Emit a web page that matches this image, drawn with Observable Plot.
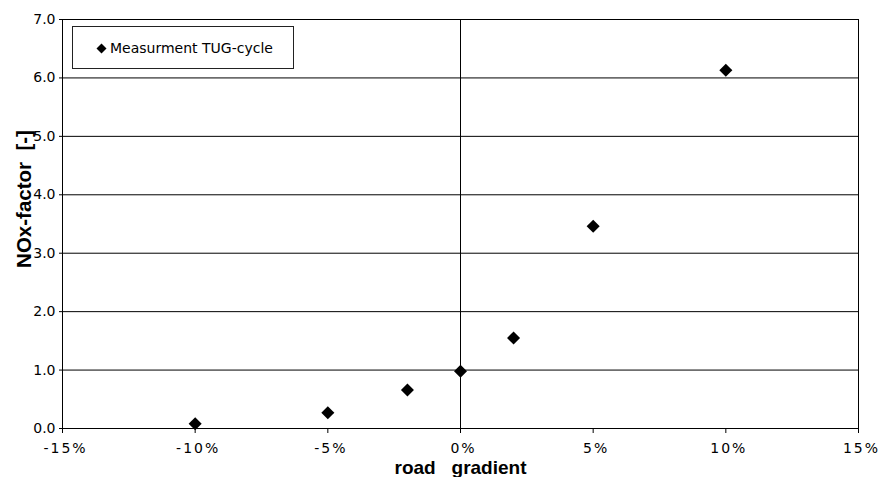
<!DOCTYPE html>
<html>
<head>
<meta charset="utf-8">
<script src="https://cdn.jsdelivr.net/npm/d3@7"></script>
<script src="https://cdn.jsdelivr.net/npm/@observablehq/plot@0.6"></script>
<style>
  body { margin: 0; background: #fff; overflow: hidden; }
  #wrap { position: relative; width: 880px; height: 477px; }
  #legend { position: absolute; left: 72px; top: 26px; width: 220px; height: 41px;
            border: 1px solid #222; background: #fff; font: 14px "DejaVu Sans", sans-serif; color: #000; }
  #legend svg { position: absolute; left: 23px; top: 16px; }
  #legend span { position: absolute; left: 37px; top: 13px; white-space: nowrap; line-height: 16px; }
  g[aria-label="x-axis tick label"] text { letter-spacing: 2px; }
</style>
</head>
<body>
<div id="wrap"><div id="legend"><svg width="11" height="11"><polygon points="5.5,0.5 10.5,5.5 5.5,10.5 0.5,5.5" fill="#000"/></svg><span>Measurment TUG-cycle</span></div></div>
<script>
const gradients = [-10, -5, -2, 0, 2, 5, 10];
const noxFactor = [0.08, 0.27, 0.66, 0.98, 1.55, 3.46, 6.13];
const xTicks = [-15, -10, -5, 0, 5, 10, 15];
const yTicks = [0, 1, 2, 3, 4, 5, 6, 7];
const xTitle = "road\u00a0\u00a0\u00a0gradient";
const yTitle = "NOx-factor\u00a0\u00a0[-]";

const data = gradients.map((g, i) => ({g, v: noxFactor[i]}));

const diamond = {
  draw(ctx, size) {
    const h = Math.sqrt(size / 2);
    ctx.moveTo(0, -h); ctx.lineTo(h, 0); ctx.lineTo(0, h); ctx.lineTo(-h, 0); ctx.closePath();
  }
};

const chart = Plot.plot({
  width: 880, height: 477,
  marginLeft: 62, marginRight: 22, marginTop: 19, marginBottom: 49,
  style: {fontFamily: "DejaVu Sans", fontSize: "14px", color: "#000", background: "#fff"},
  x: {domain: [-15, 15]},
  y: {domain: [0, 7]},
  marks: [
    Plot.gridY(yTicks, {stroke: "#000", strokeOpacity: 1}),
    Plot.ruleX([0], {stroke: "#000"}),
    Plot.frame({stroke: "#000"}),
    Plot.axisX(xTicks, {text: null, tickSize: 5, label: null, stroke: "#000"}),
    Plot.axisX(xTicks, {tickFormat: d => d + "%", tickSize: 0, tickPadding: 15, dx: 3, label: null}),
    Plot.axisY(yTicks, {tickFormat: d => d.toFixed(1), tickSize: 3, tickPadding: 4, label: null, stroke: "#000"}),
    Plot.dot(data, {x: "g", y: "v", symbol: diamond, r: 5.2, fill: "#000", stroke: null}),
    Plot.text([xTitle], {frameAnchor: "bottom", dy: 45, textAnchor: "middle", lineAnchor: "bottom", fontFamily: "Liberation Sans", fontWeight: "bold", fontSize: 19, fill: "#000"}),
    Plot.text([yTitle], {frameAnchor: "left", dx: -32, dy: -25, rotate: -90, textAnchor: "middle", lineAnchor: "bottom", fontFamily: "Liberation Sans", fontWeight: "bold", fontSize: 20.5, fill: "#000"})
  ]
});
document.getElementById("wrap").prepend(chart);
</script>
</body>
</html>
